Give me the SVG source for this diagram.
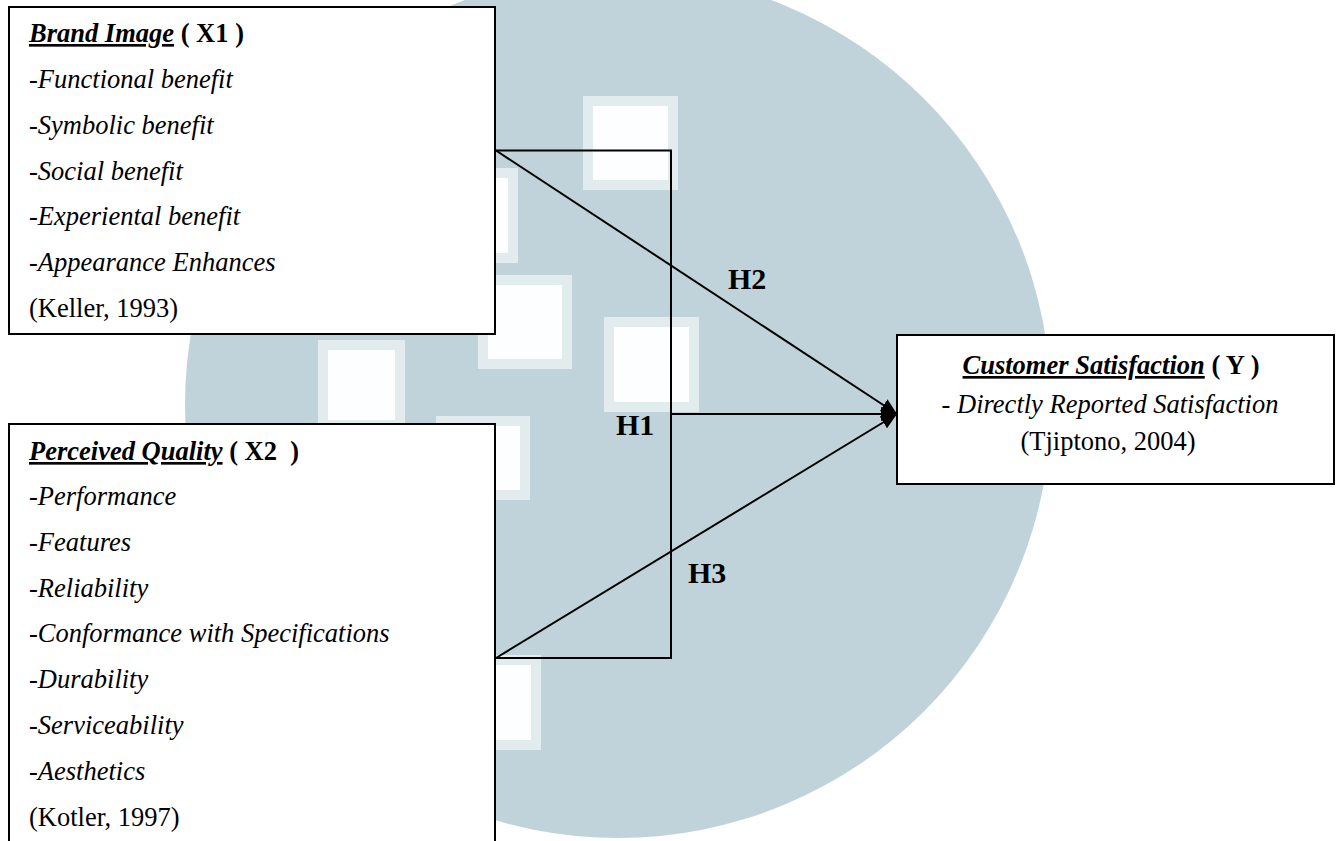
<svg xmlns="http://www.w3.org/2000/svg" width="1338" height="841" viewBox="0 0 1338 841">
  <style>
    .box { fill: #ffffff; stroke: #000000; stroke-width: 2; }
    .txt { font-family: "Liberation Serif", "Times New Roman", serif; font-size: 26.5px; fill: #000000; }
    .it { font-style: italic; }
    .ttl { font-weight: bold; }
    .ul { text-decoration: underline; }
    .hl { font-family: "Liberation Serif", "Times New Roman", serif; font-size: 30px; font-weight: bold; fill: #000000; }
    .con { fill: none; stroke: #000000; stroke-width: 2; }
    .sqo { fill: #e2ebee; }
    .sqi { fill: #fdfeff; }
  </style>
  <defs>
    <marker id="arrow" markerUnits="userSpaceOnUse" markerWidth="17" markerHeight="14" refX="16" refY="7" orient="auto">
      <path d="M0,0 L16,7 L0,14 z" fill="#000000"/>
    </marker>
  </defs>
  <rect x="0" y="0" width="1338" height="841" fill="#ffffff"/>
  <g id="watermark">
    <circle cx="618" cy="405" r="433" fill="#c1d3da"/>
    <rect class="sqo" x="583" y="96" width="95" height="94"/>
    <rect class="sqi" x="593" y="106" width="75" height="74"/>
    <rect class="sqo" x="423" y="168" width="95" height="95"/>
    <rect class="sqi" x="433" y="178" width="75" height="75"/>
    <rect class="sqo" x="478" y="275" width="94" height="94"/>
    <rect class="sqi" x="488" y="285" width="74" height="74"/>
    <rect class="sqo" x="604" y="317" width="95" height="95"/>
    <rect class="sqi" x="614" y="327" width="75" height="75"/>
    <rect class="sqo" x="318" y="340" width="87" height="90"/>
    <rect class="sqi" x="328" y="350" width="67" height="70"/>
    <rect class="sqo" x="436" y="416" width="94" height="84"/>
    <rect class="sqi" x="446" y="426" width="74" height="64"/>
    <rect class="sqo" x="446" y="655" width="95" height="95"/>
    <rect class="sqi" x="456" y="665" width="75" height="75"/>
  </g>
  <g id="connectors">
    <path id="frame" class="con" d="M496,150.5 H671 V658 H496"/>
    <path id="h1" class="con" d="M671,414 H897" marker-end="url(#arrow)"/>
    <path id="h2" class="con" d="M496,150.5 L897,414" marker-end="url(#arrow)"/>
    <path id="h3" class="con" d="M496,658 L897,414" marker-end="url(#arrow)"/>
    <text class="hl" x="616" y="435">H1</text>
    <text class="hl" x="728" y="289">H2</text>
    <text class="hl" x="688" y="583">H3</text>
  </g>
  <g id="brand-image">
    <rect class="box" x="9" y="7" width="486" height="327"/>
    <text class="txt" x="29" y="42"><tspan class="ttl it ul">Brand Image</tspan><tspan class="ttl"> ( X1 )</tspan></text>
    <text class="txt it" x="29" y="88">-Functional benefit</text>
    <text class="txt it" x="29" y="134">-Symbolic benefit</text>
    <text class="txt it" x="29" y="180">-Social benefit</text>
    <text class="txt it" x="29" y="225">-Experiental benefit</text>
    <text class="txt it" x="29" y="271">-Appearance Enhances</text>
    <text class="txt" x="29" y="317">(Keller, 1993)</text>
  </g>
  <g id="perceived-quality">
    <rect class="box" x="9" y="424" width="486" height="440"/>
    <text class="txt" x="29" y="460"><tspan class="ttl it ul">Perceived Quality</tspan><tspan class="ttl"> ( X2 &#160;)</tspan></text>
    <text class="txt it" x="29" y="505">-Performance</text>
    <text class="txt it" x="29" y="551">-Features</text>
    <text class="txt it" x="29" y="597">-Reliability</text>
    <text class="txt it" x="29" y="642">-Conformance with Specifications</text>
    <text class="txt it" x="29" y="688">-Durability</text>
    <text class="txt it" x="29" y="734">-Serviceability</text>
    <text class="txt it" x="29" y="780">-Aesthetics</text>
    <text class="txt" x="29" y="826">(Kotler, 1997)</text>
  </g>
  <g id="customer-satisfaction">
    <rect class="box" x="897" y="335" width="437" height="149"/>
    <text class="txt" x="1111" y="374" text-anchor="middle"><tspan class="ttl it ul">Customer Satisfaction</tspan><tspan class="ttl"> ( Y )</tspan></text>
    <text class="txt" x="1110" y="413" text-anchor="middle">- <tspan class="it">Directly Reported Satisfaction</tspan></text>
    <text class="txt" x="1108" y="450" text-anchor="middle">(Tjiptono, 2004)</text>
  </g>
</svg>
